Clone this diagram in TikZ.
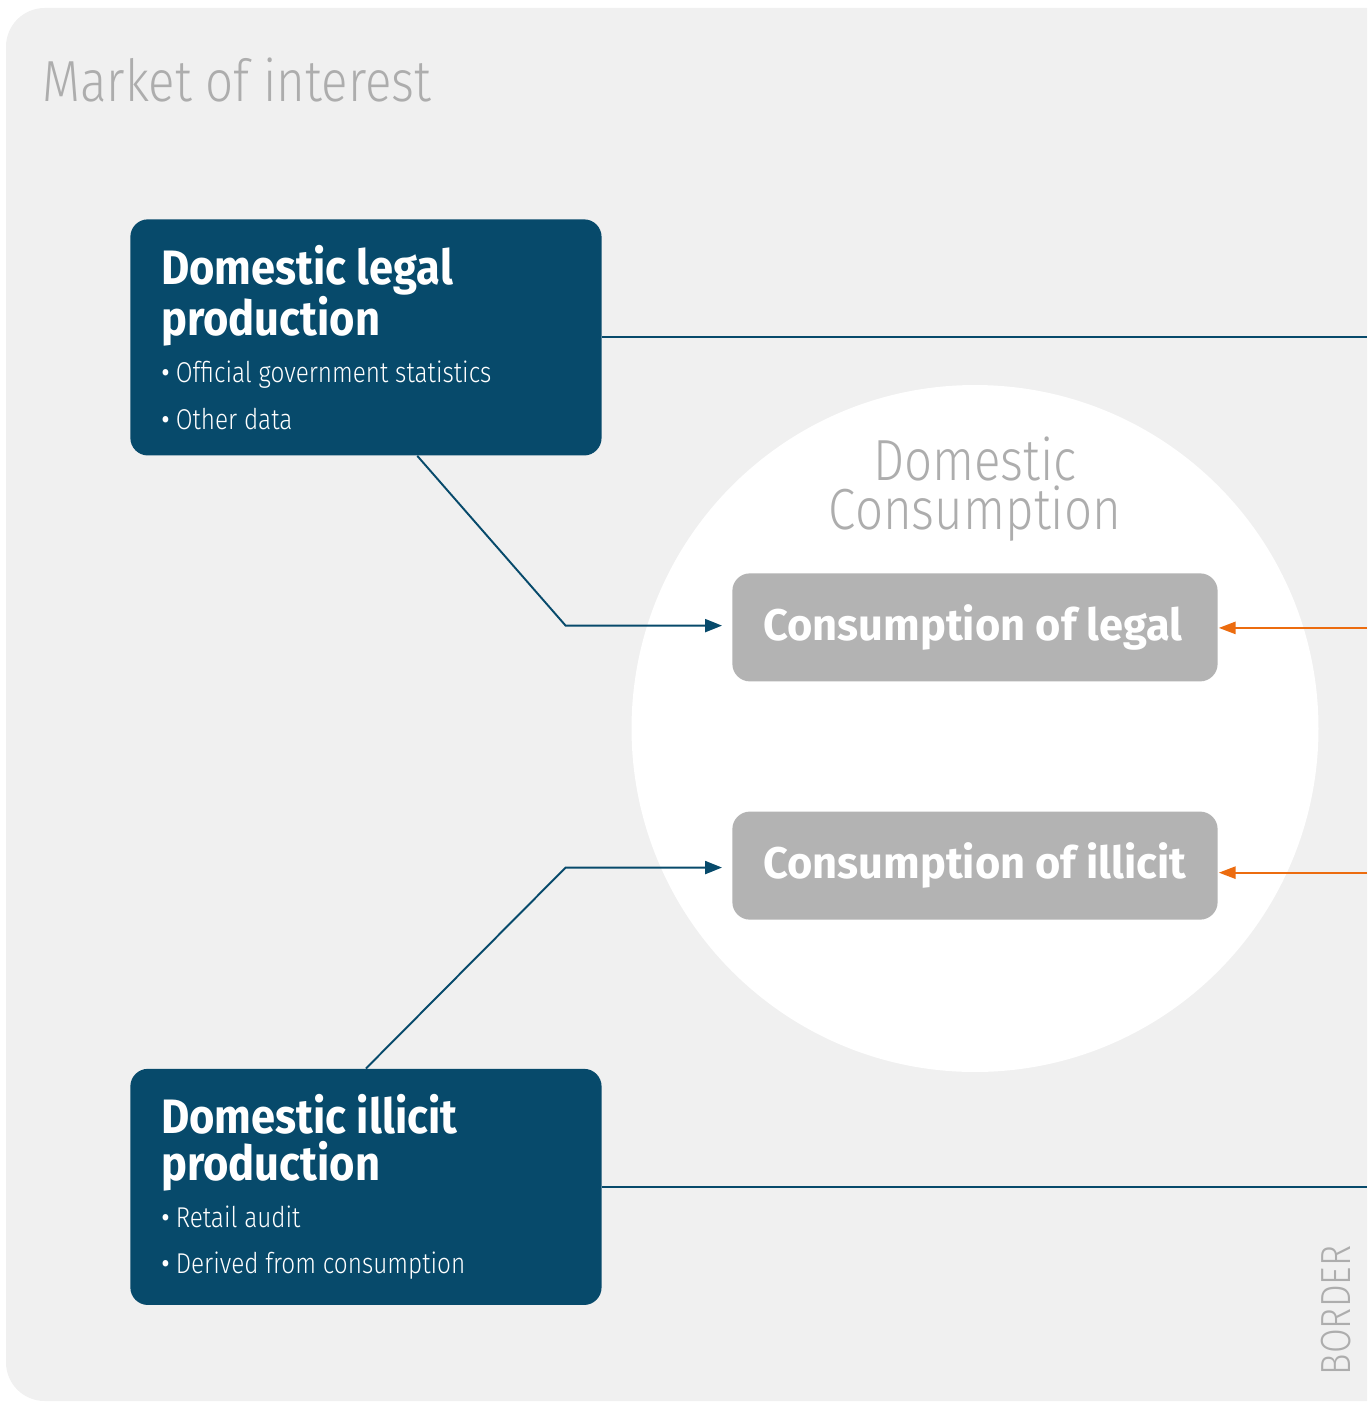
\documentclass[tikz,border=0pt]{standalone}
\usepackage{fontspec}
\setsansfont{Fira Sans}[FakeStretch=0.9]
\newfontfamily\widesf{Fira Sans}[FakeStretch=0.98]
\newfontfamily\lightsf{Fira Sans Light}[FakeStretch=0.85]
\usetikzlibrary{positioning,arrows.meta}
\definecolor{panel}{HTML}{F0F0F0}
\definecolor{prodblue}{HTML}{074A6B}
\definecolor{consgrey}{HTML}{B3B3B3}
\definecolor{zonegrey}{HTML}{ADADAD}
\definecolor{imports}{HTML}{EC6C0F}
\newcommand\titlefont{\sffamily\bfseries\fontsize{27.5}{26.7}\selectfont}
\newcommand\consfont{\widesf\bfseries\fontsize{25.2}{26}\selectfont}
\newcommand\itemfont{\lightsf\mdseries\fontsize{16.3}{26.7}\selectfont}
\newcommand\zonefont{\lightsf\mdseries\fontsize{33}{28}\selectfont}
\newcommand\bul{{\sffamily\textbullet}\hspace{3.5pt}}

\begin{document}
\begin{tikzpicture}[
      x=0.02cm, y=-0.02cm,
      prod/.style={fill=prodblue, rounded corners=10pt, text=white, anchor=north west,
                   inner xsep=17.6pt, text width=233pt, minimum height=134.4pt,
                   align=flush left, font=\titlefont},
      cons/.style={fill=consgrey, rounded corners=10pt, text=white, anchor=north west,
                   inner xsep=17.6pt, text width=241pt, minimum height=61.5pt,
                   align=flush left, font=\consfont},
      zone/.style={text=zonegrey, font=\zonefont, inner sep=0pt},
      link/.style={line width=1.1pt, prodblue},
      flow/.style={link, -{Triangle[length=9.6pt,width=7.4pt]}, shorten >=5.7pt},
      supply/.style={line width=1.1pt, imports, -{Triangle[length=9.6pt,width=7pt]}, shorten >=0.5pt}
    ]

    \clip (0,0) rectangle (1367,1402);
    \fill[panel, rounded corners=22pt] (6,8) rectangle (1440,1401);
    \node[zone, anchor=base west] (market) at (42,102) {Market of interest};

    \node[circle, fill=white, minimum size=391pt, inner sep=0pt] (dc) at (975,728.5) {};
    \node[zone, align=center] (dclabel) at (975,489) {Domestic\\Consumption};

    \node[prod] (legalprod) at (130,219)
      {Domestic legal\\production\\\itemfont\bul Official government statistics\\\bul Other data};
    \node[prod, below=348.7pt of legalprod] (illprod)
      {Domestic illicit\\production\\\itemfont\bul Retail audit\\\bul Derived from consumption};

    \node[cons] (conlegal) at (732,573) {Consumption of legal};
    \node[cons, below=73.7pt of conlegal] (conillicit) {Consumption of illicit};

    \node[zone, font=\lightsf\fontsize{24}{24}\selectfont, rotate=90, anchor=base] (border) at (1350,1310.5) {BORDER};

    \coordinate (edge) at (1367,0);

    \draw[link] (legalprod.east) -- (legalprod.east -| edge);
    \draw[link] (illprod.east) -- (illprod.east -| edge);
    \draw[flow] ([xshift=29.2pt]legalprod.south) -- ([xshift=-94.7pt,yshift=1pt]conlegal.west) -- ([yshift=1pt]conlegal.west);
    \draw[flow] (illprod.north) -- ([xshift=-94.7pt,yshift=-1.1pt]conillicit.west) -- ([yshift=-1.1pt]conillicit.west);
    \draw[supply] ([yshift=-0.3pt]conlegal.east -| edge) -- ([yshift=-0.3pt]conlegal.east);
    \draw[supply] ([yshift=-4pt]conillicit.east -| edge) -- ([yshift=-4pt]conillicit.east);

  \end{tikzpicture}
\end{document}
